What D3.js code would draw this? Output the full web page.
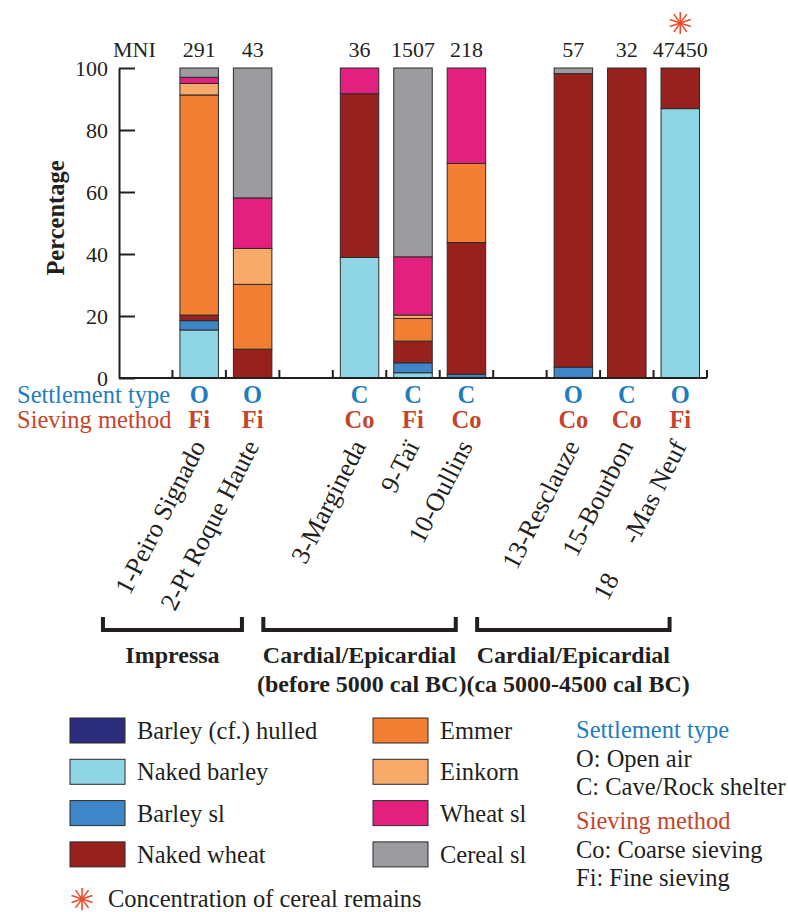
<!DOCTYPE html>
<html lang="en">
<head>
<meta charset="UTF-8">
<title>Cereal remains by site</title>
<script src="https://cdn.jsdelivr.net/npm/d3@7"></script>
<style>
body { margin: 0; background: #fff; }
</style>
</head>
<body>
<svg id="chart" width="788" height="912"></svg>
<script>
// data
const sites = ["1-Peiro Signado", "2-Pt Roque Haute", "3-Margineda", "9-Taï", "10-Oullins",
               "13-Resclauze", "15-Bourbon", "18|-Mas Neuf"];
const mni = [291, 43, 36, 1507, 218, 57, 32, 47450];
const settlement = ["O", "O", "C", "C", "C", "O", "C", "O"];
const sieving = ["Fi", "Fi", "Co", "Fi", "Co", "Co", "Co", "Fi"];
const concentrated = ["18|-Mas Neuf"];

const taxa = ["Barley (cf.) hulled", "Naked barley", "Barley sl", "Naked wheat",
              "Emmer", "Einkorn", "Wheat sl", "Cereal sl"];
const barleyHulled = [0, 0, 0, 0, 0, 0, 0, 0];
const nakedBarley  = [15.5, 0, 38.9, 1.7, 0, 0, 0, 86.9];
const barleySl     = [3.0, 0, 0, 3.2, 1.2, 3.5, 0, 0];
const nakedWheat   = [1.8, 9.3, 52.8, 7.0, 42.5, 94.7, 100, 13.1];
const emmer        = [71.0, 20.9, 0, 7.3, 25.5, 0, 0, 0];
const einkorn      = [3.7, 11.6, 0, 1.1, 0, 0, 0, 0];
const wheatSl      = [2.0, 16.3, 8.3, 18.8, 30.8, 0, 0, 0];
const cerealSl     = [3.0, 41.9, 0, 60.9, 0, 1.8, 0, 0];
const series = [barleyHulled, nakedBarley, barleySl, nakedWheat, emmer, einkorn, wheatSl, cerealSl];

const groups = ["Impressa", "Cardial/Epicardial", "Cardial/Epicardial"];
const groupSub = ["", "(before 5000 cal BC)", "(ca 5000-4500 cal BC)"];
const groupSize = [2, 3, 3];
const yTicks = [0, 20, 40, 60, 80, 100];

const colors = ["#2b2d7c", "#8ed6e6", "#3f86c8", "#96211d", "#f27f33", "#f8aa6a", "#e4207f", "#9c9ba0"];
const blue = "#1f7dbf", red = "#c6452a", ink = "#231f20";
const serif = '"Liberation Serif"';
const fs = 24.5;

const svg = d3.select("#chart");

function label(sel, size, bold) {
  return sel.style("font-family", serif).style("font-size", size + "px")
    .style("font-weight", bold ? "bold" : "normal");
}

// slots: one empty slot before every group, then its sites
let slots = [], k = 0;
groups.forEach((g, gi) => {
  slots.push("gap" + gi);
  for (let j = 0; j < groupSize[gi]; j++) slots.push(sites[k++]);
});

const x = d3.scaleBand().domain(slots).range([119, 707]);
const bw = x.bandwidth();
const barW = bw * 0.72;
const cx = s => x(s) + bw / 2;
const y = d3.scaleLinear().domain([0, 100]).range([378, 68]);

// stacked table
const table = sites.map((s, i) => {
  const row = { site: s };
  taxa.forEach((t, j) => row[t] = series[j][i]);
  return row;
});
const stacked = d3.stack().keys(taxa)(table);

svg.append("g").selectAll("g")
  .data(stacked)
  .join("g")
  .attr("fill", (d, i) => colors[i])
  .selectAll("rect")
  .data(d => d.filter(p => p[1] - p[0] > 0))
  .join("rect")
  .attr("x", d => cx(d.data.site) - barW / 2)
  .attr("width", barW)
  .attr("y", d => y(d[1]))
  .attr("height", d => y(d[0]) - y(d[1]))
  .attr("stroke", "#2b2b2b")
  .attr("stroke-width", 1);

// y axis, ticks pointing inward
const yAxis = svg.append("g")
  .attr("transform", "translate(119,0)")
  .call(d3.axisLeft(y).tickValues(yTicks).tickSizeInner(-16).tickSizeOuter(0).tickPadding(11))
  .attr("font-family", null).attr("font-size", null);
yAxis.selectAll("path, line").attr("stroke", ink).attr("stroke-width", 2);
label(yAxis.selectAll("text"), 22).attr("fill", ink);

label(svg.append("text"), fs, true)
  .attr("transform", "translate(64,218) rotate(-90)")
  .attr("text-anchor", "middle")
  .attr("fill", ink)
  .text("Percentage");

// baseline with small slot ticks
svg.append("line")
  .attr("x1", 119).attr("x2", 707).attr("y1", y(0)).attr("y2", y(0))
  .attr("stroke", ink).attr("stroke-width", 2);
svg.append("g").selectAll("line")
  .data(slots)
  .join("line")
  .attr("x1", d => x(d) + bw).attr("x2", d => x(d) + bw)
  .attr("y1", y(0)).attr("y2", y(0) - 8)
  .attr("stroke", ink).attr("stroke-width", 2);

// MNI counts
label(svg.append("text"), 22).attr("x", 113).attr("y", 57).attr("fill", ink).text("MNI");
label(svg.append("g").selectAll("text").data(sites).join("text"), 22)
  .attr("x", d => cx(d)).attr("y", 57)
  .attr("text-anchor", "middle")
  .attr("fill", ink)
  .text((d, i) => mni[i]);

function star(g, px, py, r) {
  const n = 5;
  for (let i = 0; i < n; i++) {
    const a = Math.PI * i / n + Math.PI / 2;
    g.append("line")
      .attr("x1", px - r * Math.cos(a)).attr("y1", py - r * Math.sin(a))
      .attr("x2", px + r * Math.cos(a)).attr("y2", py + r * Math.sin(a))
      .attr("stroke", "#ef4b2c").attr("stroke-width", 1.6);
  }
}
concentrated.forEach(s => star(svg, cx(s), 23, 11));

// settlement / sieving rows
label(svg.append("text"), fs).attr("x", 17).attr("y", 403).attr("fill", blue).text("Settlement type");
label(svg.append("text"), fs).attr("x", 17).attr("y", 428).attr("fill", red).text("Sieving method");
label(svg.append("g").selectAll("text").data(sites).join("text"), fs, true)
  .attr("x", d => cx(d)).attr("y", 403)
  .attr("text-anchor", "middle")
  .attr("fill", blue)
  .text((d, i) => settlement[i]);
label(svg.append("g").selectAll("text").data(sites).join("text"), fs, true)
  .attr("x", d => cx(d)).attr("y", 428)
  .attr("text-anchor", "middle")
  .attr("fill", red)
  .text((d, i) => sieving[i]);

// slanted site names
const names = label(svg.append("g").selectAll("text").data(sites).join("text"), 26)
  .attr("transform", d => `translate(${cx(d) + 7},446) rotate(-63)`)
  .attr("text-anchor", "end")
  .attr("fill", ink);
names.selectAll("tspan")
  .data(d => d.split("|"))
  .join("tspan")
  .attr("dx", (d, i) => i ? 37 : 0)
  .text(d => d);

// period brackets
let first = 0;
const spans = groupSize.map(n => {
  const s = [sites[first], sites[first + n - 1]];
  first += n;
  return [x(s[0]) - bw * 1.3, x(s[1]) + bw * 0.3];
});
const br = svg.append("g").attr("fill", "none").attr("stroke", ink).attr("stroke-width", 4);
spans.forEach(s => {
  br.append("path").attr("d", `M${s[0]},617V630H${s[1]}V617`);
});
label(svg.append("g").selectAll("text").data(groups).join("text"), 24, true)
  .attr("x", (d, i) => (spans[i][0] + spans[i][1]) / 2)
  .attr("y", 663)
  .attr("text-anchor", "middle")
  .attr("fill", ink)
  .text(d => d);
const join = (spans[1][1] + spans[2][0]) / 2;
label(svg.append("text"), 24, true).attr("x", join).attr("y", 692).attr("text-anchor", "end")
  .attr("fill", ink).text(groupSub[1]);
label(svg.append("text"), 24, true).attr("x", join).attr("y", 692).attr("text-anchor", "start")
  .attr("fill", ink).text(groupSub[2]);

// legend
const leg = svg.append("g").selectAll("g")
  .data(taxa)
  .join("g")
  .attr("transform", (d, i) => `translate(${i < 4 ? 70 : 373},${718 + (i % 4) * 41.3})`);
leg.append("rect").attr("width", 55).attr("height", 25)
  .attr("fill", (d, i) => colors[i]).attr("stroke", "#2b2b2b").attr("stroke-width", 1);
label(leg.append("text"), fs).attr("x", 67).attr("y", 21).attr("fill", ink).text(d => d);

const keyLines = [
  ["Settlement type", blue, 738], ["O: Open air", ink, 767], ["C: Cave/Rock shelter", ink, 795],
  ["Sieving method", red, 829], ["Co: Coarse sieving", ink, 858], ["Fi: Fine sieving", ink, 886]
];
label(svg.append("g").selectAll("text").data(keyLines).join("text"), fs)
  .attr("x", 576).attr("y", d => d[2])
  .attr("fill", d => d[1])
  .text(d => d[0]);

star(svg, 82, 899, 11);
label(svg.append("text"), fs).attr("x", 108).attr("y", 907).attr("fill", ink)
  .text("Concentration of cereal remains");
</script>
</body>
</html>
